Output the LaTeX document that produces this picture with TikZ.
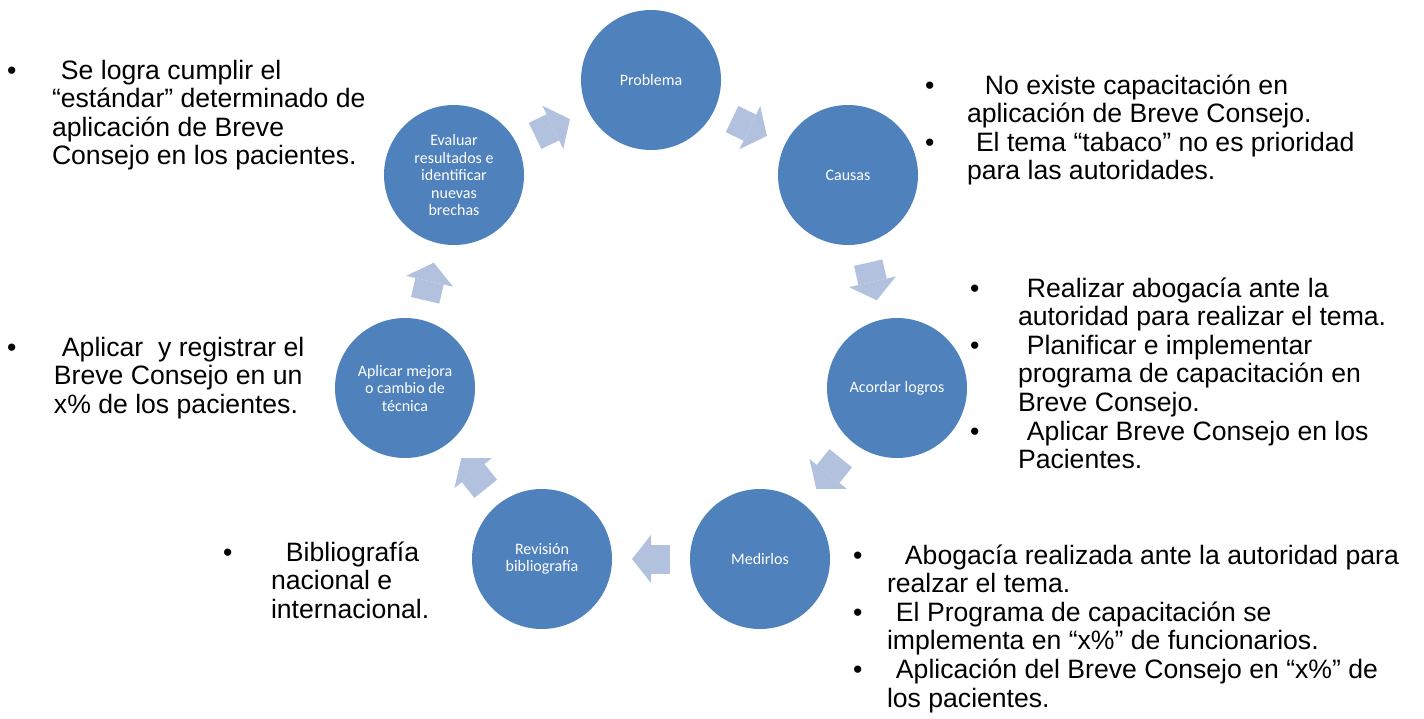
\documentclass[tikz,border=0pt]{standalone}
\usepackage{fontspec}
\setmainfont{Liberation Sans}
\newfontfamily\circfont{Carlito}
\usetikzlibrary{arrows.meta}
\definecolor{stepblue}{HTML}{4F81BD}
\definecolor{arrowblue}{HTML}{B2C1DD}

\begin{document}
\begin{tikzpicture}[x=0.5pt,y=-0.5pt,inner sep=0pt,outer sep=0pt,
stepnode/.style={circle,fill=stepblue,minimum size=70pt,text=white,align=center,font=\circfont\fontsize{8}{8.75}\selectfont},
cyclearrow/.style={draw=arrowblue,line width=14.5pt,shorten <=10pt,shorten >=10pt,-{Triangle[length=9.5pt,width=24pt,line width=0pt]}},
notes/.style={anchor=base west,font=\fontsize{13.3}{14.3}\selectfont}]
\useasboundingbox (0,0) rectangle (1424,718);
\draw (651,80) node[stepnode] (prob) {Problema};
\draw (848,175) node[stepnode] (caus) {Causas};
\draw (897,388) node[stepnode] (acor) {Acordar logros};
\draw (760,559) node[stepnode] (medi) {Medirlos};
\draw (542,559) node[stepnode] (revi) {Revisión\\bibliografía};
\draw (405,388) node[stepnode] (apli) {Aplicar mejora\\o cambio de\\técnica};
\draw (454,175) node[stepnode] (eval) {Evaluar\\resultados e\\identificar\\nuevas\\brechas};
\draw[cyclearrow] (prob) -- (caus);
\draw[cyclearrow] (caus) -- (acor);
\draw[cyclearrow] (acor) -- (medi);
\draw[cyclearrow] (medi) -- (revi);
\draw[cyclearrow] (revi) -- (apli);
\draw[cyclearrow] (apli) -- (eval);
\draw[cyclearrow] (eval) -- (prob);
% notas de cada paso
\draw (7,79) node[notes] (evalnote) {\begin{tabular}[t]{@{}p{22.5pt}@{}l@{}}
\textbullet & \hspace{4.5pt}Se logra cumplir el\\
 & “estándar” determinado de\\
 & aplicación de Breve\\
 & Consejo en los pacientes.
\end{tabular}};
\draw (925,94) node[notes] (causnote) {\begin{tabular}[t]{@{}p{21pt}@{}l@{}}
\textbullet & \hspace{9pt}No existe capacitación en\\
 & aplicación de Breve Consejo.\\
\textbullet & \hspace{4.5pt}El tema “tabaco” no es prioridad\\
 & para las autoridades.
\end{tabular}};
\draw (970,297) node[notes] (acornote) {\begin{tabular}[t]{@{}p{24pt}@{}l@{}}
\textbullet & \hspace{4.5pt}Realizar abogacía ante la\\
 & autoridad para realizar el tema.\\
\textbullet & \hspace{4.5pt}Planificar e implementar\\
 & programa de capacitación en\\
 & Breve Consejo.\\
\textbullet & \hspace{4.5pt}Aplicar Breve Consejo en los\\
 & Pacientes.
\end{tabular}};
\draw (853,564) node[notes] (medinote) {\begin{tabular}[t]{@{}p{17pt}@{}l@{}}
\textbullet & \hspace{9pt}Abogacía realizada ante la autoridad para\\
 & realzar el tema.\\
\textbullet & \hspace{4.5pt}El Programa de capacitación se\\
 & implementa en “x\%” de funcionarios.\\
\textbullet & \hspace{4.5pt}Aplicación del Breve Consejo en “x\%” de\\
 & los pacientes.
\end{tabular}};
\draw (7,356) node[notes] (aplinote) {\begin{tabular}[t]{@{}p{23.5pt}@{}l@{}}
\textbullet & \hspace{4pt}Aplicar\ \ y registrar el\\
 & Breve Consejo en un\\
 & x\% de los pacientes.
\end{tabular}};
\draw (223,561) node[notes] (revinote) {\begin{tabular}[t]{@{}p{24pt}@{}l@{}}
\textbullet & \hspace{7.5pt}Bibliografía\\
 & nacional e\\
 & internacional.
\end{tabular}};
\end{tikzpicture}
\end{document}
